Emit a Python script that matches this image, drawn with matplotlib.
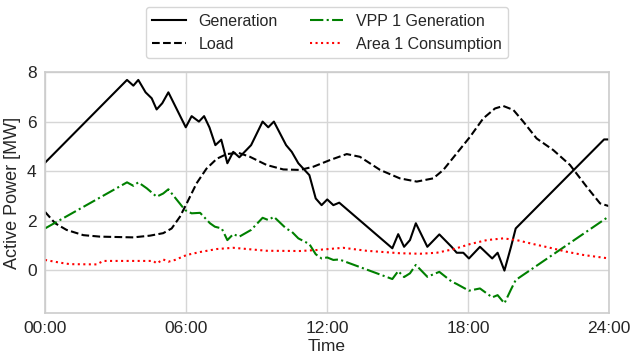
import matplotlib
matplotlib.use("Agg")
import matplotlib.pyplot as plt

plt.rcParams['font.family'] = ['Liberation Sans', 'DejaVu Sans']

# Data (hours, MW)
gen_t = [0, 3.49, 3.76, 3.97, 4.28, 4.54, 4.75, 4.99, 5.25, 5.99, 6.24, 6.55, 6.77, 7.0,
         7.25, 7.5, 7.76, 8.01, 8.27, 8.77, 9.26, 9.5, 9.74, 10.26, 10.5, 10.78, 11.25,
         11.52, 11.77, 12.01, 12.27, 12.52, 14.78, 15.03, 15.28, 15.53, 15.78, 16.27,
         16.78, 17.3, 17.52, 17.8, 18.04, 18.51, 19.03, 19.26, 19.55, 19.83, 20.03,
         23.79, 24.0]
gen_v = [4.34, 7.68, 7.45, 7.68, 7.18, 6.94, 6.49, 6.74, 7.18, 5.77, 6.22, 6.0, 6.22, 5.76,
         5.05, 5.27, 4.32, 4.78, 4.56, 5.05, 6.0, 5.77, 6.0, 5.05, 4.78, 4.32, 3.84,
         2.9, 2.63, 2.86, 2.63, 2.73, 0.89, 1.46, 0.95, 1.22, 1.9, 0.95,
         1.45, 0.95, 0.71, 0.71, 0.48, 0.95, 0.48, 0.71, -0.01, 0.95, 1.69,
         5.28, 5.28]

load_t = [0, 0.43, 0.92, 1.63, 2.34, 3.76, 4.47, 5.03, 5.39, 5.74, 6.03, 6.45, 6.87, 7.31,
          7.73, 8.23, 8.72, 9.43, 10.14, 10.85, 11.42, 12.13, 12.84, 13.4, 14.26, 15.1,
          15.82, 16.52, 16.95, 17.52, 18.09, 18.65, 19.15, 19.5, 19.93, 20.35, 20.92,
          21.63, 22.34, 23.05, 23.62, 24.0]
load_v = [2.36, 1.9, 1.63, 1.42, 1.36, 1.33, 1.4, 1.5, 1.69, 2.16, 2.7, 3.51, 4.1, 4.5,
          4.69, 4.74, 4.58, 4.25, 4.07, 4.05, 4.18, 4.45, 4.69, 4.58, 4.05, 3.71,
          3.58, 3.71, 4.05, 4.72, 5.39, 6.13, 6.53, 6.63, 6.47, 6.0, 5.32,
          4.85, 4.25, 3.37, 2.7, 2.59]

vpp_t = [0, 3.49, 3.76, 3.97, 4.33, 4.75, 5.03, 5.25, 5.96, 6.24, 6.6, 7.02, 7.23, 7.52,
         7.76, 8.01, 8.27, 8.77, 9.26, 9.5, 9.74, 10.26, 10.5, 10.78, 11.25, 11.52, 11.77,
         12.01, 12.27, 12.52, 14.78, 15.03, 15.28, 15.53, 15.78, 16.27, 16.78, 17.3,
         17.52, 18.04, 18.51, 19.03, 19.26, 19.55, 19.83, 20.03, 23.97]
vpp_v = [1.69, 3.55, 3.41, 3.55, 3.31, 2.97, 3.1, 3.27, 2.43, 2.3, 2.32, 1.9, 1.76, 1.69,
         1.22, 1.46, 1.36, 1.63, 2.12, 2.03, 2.16, 1.69, 1.56, 1.29, 1.06, 0.65, 0.48,
         0.52, 0.42, 0.44, -0.35, -0.03, -0.27, -0.12, 0.22, -0.26, -0.06, -0.45,
         -0.55, -0.82, -0.73, -1.09, -1.0, -1.33, -0.77, -0.39, 2.16]

area_t = [0, 0.64, 1.06, 2.2, 2.48, 4.61, 4.75, 5.03, 5.25, 5.53, 6.03, 6.6, 7.31, 8.01,
          9.43, 10.85, 11.56, 12.69, 13.68, 15.1, 15.96, 16.67, 17.37, 18.09, 18.8, 19.5,
          20.07, 20.78, 21.49, 22.2, 22.91, 24.0]
area_v = [0.42, 0.31, 0.25, 0.24, 0.38, 0.38, 0.28, 0.44, 0.35, 0.42, 0.62, 0.74, 0.86, 0.91,
          0.79, 0.78, 0.82, 0.91, 0.79, 0.69, 0.67, 0.71, 0.85, 1.06, 1.22, 1.29,
          1.22, 1.06, 0.91, 0.75, 0.62, 0.48]

xticks = [0, 6, 12, 18, 24]
xtick_labels = ["00:00", "06:00", "12:00", "18:00", "24:00"]
yticks = [0, 2, 4, 6, 8]

fig = plt.figure(figsize=(6.34, 3.56), dpi=100)
ax = fig.add_axes([45/634, (356-313)/356, (609-45)/634, (313-72)/356])

ax.plot(gen_t, gen_v, color='black', lw=1.5, ls='-', label='Generation')
ax.plot(load_t, load_v, color='black', lw=1.5, ls='--', label='Load')
ax.plot(vpp_t, vpp_v, color='green', lw=1.5, ls='-.', label='VPP 1 Generation')
ax.plot(area_t, area_v, color='red', lw=1.5, ls=':', label='Area 1 Consumption')

ax.set_xlim(0, 24)
ax.set_ylim(-1.72, 8)
ax.set_xticks(xticks)
ax.set_xticklabels(xtick_labels)
ax.set_yticks(yticks)
ax.grid(True, color='#d6d6d6', lw=1.0)
ax.set_axisbelow(True)
for s in ax.spines.values():
    s.set_color('#cccccc')
    s.set_linewidth(1.2)
ax.tick_params(axis='both', length=0, labelsize=12.5, colors='#262626', pad=6)
ax.set_xlabel('Time', fontsize=12.5, color='#262626', labelpad=2)
ax.set_ylabel('Active Power [MW]', fontsize=13, color='#262626', labelpad=4)

leg = ax.legend(loc='lower center', bbox_to_anchor=(0.5, 1.058), ncol=2, fontsize=11.5,
                frameon=True, borderaxespad=0, handlelength=2.1, columnspacing=2.0,
                fancybox=True, edgecolor='#cccccc')
for t in leg.get_texts():
    t.set_color('#262626')

fig.savefig('out.png', dpi=100)
